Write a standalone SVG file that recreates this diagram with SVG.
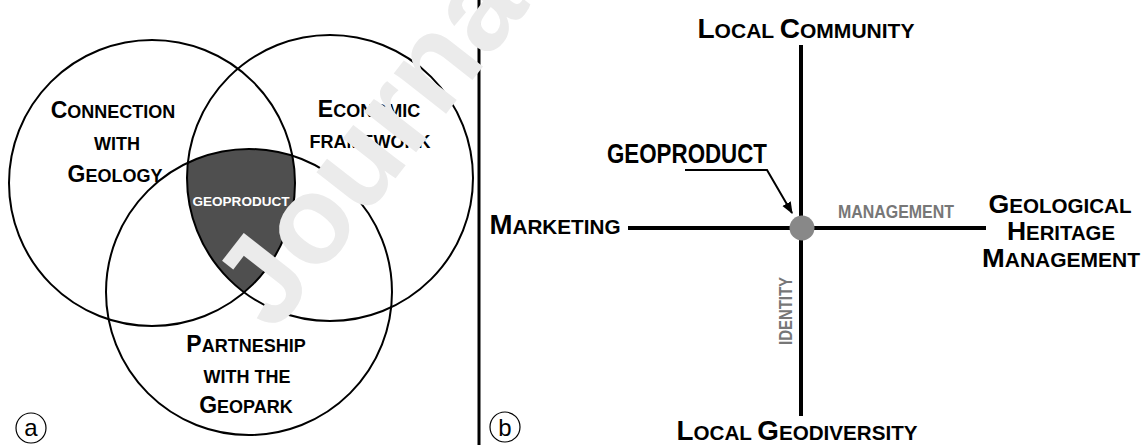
<svg xmlns="http://www.w3.org/2000/svg" width="1143" height="445" viewBox="0 0 1143 445">
<style>
.t{font-family:"Liberation Sans",Arial,sans-serif;font-weight:bold;fill:#000}
.L{font-size:23px}
.S{font-size:18px}
.bL{font-size:28px}
.bS{font-size:21px}
.g{fill:#777}
.ring{fill:none;stroke:#000;stroke-width:2}
.ax{stroke:#000;stroke-width:4;fill:none}
.lab{font-family:"Liberation Sans",Arial,sans-serif;font-size:24px;fill:#000}
</style>
<defs>
<clipPath id="cR"><circle cx="330" cy="178" r="143"/></clipPath>
<clipPath id="cB"><circle cx="249" cy="292" r="143"/></clipPath>
<marker id="ah" viewBox="0 0 10 10" refX="9" refY="5" markerWidth="6" markerHeight="6" orient="auto" markerUnits="strokeWidth">
<path d="M0,1 L10,5 L0,9 z" fill="#000"/>
</marker>
</defs>
<rect width="1143" height="445" fill="#fff"/>

<g id="venn">
<g clip-path="url(#cR)"><circle cx="152" cy="183" r="143" fill="#4f4f4f" clip-path="url(#cB)"/></g>
<circle class="ring" cx="152" cy="183" r="143"/>
<circle class="ring" cx="330" cy="178" r="143"/>
<circle class="ring" cx="249" cy="292" r="143"/>
</g>

<g id="connection-with-geology">
<text class="t" text-anchor="middle" x="113" y="118"><tspan class="L">C</tspan><tspan class="S">ONNECTION</tspan></text>
<text class="t S" text-anchor="middle" x="117" y="150">WITH</text>
<text class="t" text-anchor="middle" x="115" y="182"><tspan class="L">G</tspan><tspan class="S">EOLOGY</tspan></text>
</g>
<g id="economic-framework">
<text class="t" text-anchor="middle" x="369" y="117"><tspan class="L">E</tspan><tspan class="S">CONOMIC</tspan></text>
<text class="t S" text-anchor="middle" x="370" y="148">FRAMEWORK</text>
</g>
<g id="partnership">
<text class="t" text-anchor="middle" x="246" y="352"><tspan class="L">P</tspan><tspan class="S">ARTNESHIP</tspan></text>
<text class="t S" text-anchor="middle" x="247" y="383">WITH THE</text>
<text class="t" text-anchor="middle" x="246" y="413"><tspan class="L">G</tspan><tspan class="S">EOPARK</tspan></text>
</g>
<g id="geoproduct-a">
<text x="241" y="206" text-anchor="middle" font-family="Liberation Sans, Arial, sans-serif" font-weight="bold" font-size="13.5" fill="#fff" textLength="97" lengthAdjust="spacingAndGlyphs">GEOPRODUCT</text>
</g>
<g id="label-a">
<circle cx="31" cy="428" r="15" fill="none" stroke="#000" stroke-width="1.2"/>
<text class="lab" x="31" y="436" text-anchor="middle">a</text>
</g>

<g id="divider"><line x1="479" y1="0" x2="479" y2="445" stroke="#000" stroke-width="3"/></g>

<g id="connectors">
<line class="ax" x1="801" y1="45" x2="801" y2="416"/>
<line class="ax" x1="628" y1="228" x2="986" y2="228"/>
<polyline points="685,170 767,170 792,213" fill="none" stroke="#000" stroke-width="2" marker-end="url(#ah)"/>
</g>

<g id="geoproduct-b">
<circle cx="802" cy="228" r="12.5" fill="#888"/>
<text class="t" x="687" y="163" text-anchor="middle" font-size="28" textLength="160" lengthAdjust="spacingAndGlyphs">GEOPRODUCT</text>
</g>
<g id="local-community">
<text class="t" x="806" y="38" text-anchor="middle" textLength="217" lengthAdjust="spacingAndGlyphs"><tspan class="bL">L</tspan><tspan class="bS">OCAL </tspan><tspan class="bL">C</tspan><tspan class="bS">OMMUNITY</tspan></text>
</g>
<g id="marketing">
<text class="t" x="555" y="234" text-anchor="middle" textLength="131" lengthAdjust="spacingAndGlyphs"><tspan class="bL">M</tspan><tspan class="bS">ARKETING</tspan></text>
</g>
<g id="geological-heritage">
<text class="t" x="1060" y="213" text-anchor="middle" textLength="143" lengthAdjust="spacingAndGlyphs"><tspan font-size="26">G</tspan><tspan font-size="20">EOLOGICAL</tspan></text>
<text class="t" x="1061" y="240" text-anchor="middle" textLength="108" lengthAdjust="spacingAndGlyphs"><tspan font-size="26">H</tspan><tspan font-size="20">ERITAGE</tspan></text>
<text class="t" x="1061" y="267" text-anchor="middle" textLength="158" lengthAdjust="spacingAndGlyphs"><tspan font-size="26">M</tspan><tspan font-size="20">ANAGEMENT</tspan></text>
</g>
<g id="local-geodiversity">
<text class="t" x="797" y="440" text-anchor="middle" textLength="241" lengthAdjust="spacingAndGlyphs"><tspan font-size="27">L</tspan><tspan font-size="20">OCAL </tspan><tspan font-size="27">G</tspan><tspan font-size="20">EODIVERSITY</tspan></text>
</g>
<g id="axis-labels">
<text class="t g" x="896" y="218" text-anchor="middle" font-size="18" textLength="116" lengthAdjust="spacingAndGlyphs">MANAGEMENT</text>
<text class="t g" transform="translate(792,311) rotate(-90)" x="0" y="0" text-anchor="middle" font-size="18" textLength="68" lengthAdjust="spacingAndGlyphs">IDENTITY</text>
</g>
<g id="label-b">
<circle cx="505" cy="427" r="15" fill="none" stroke="#000" stroke-width="1.2"/>
<text class="lab" x="505" y="436" text-anchor="middle">b</text>
</g>

<g id="watermark">
<text transform="translate(274,334) rotate(-52)" font-family="Liberation Sans, Arial, sans-serif" font-weight="bold" font-size="125" fill="#ebebeb">Journa</text>
</g>
</svg>
